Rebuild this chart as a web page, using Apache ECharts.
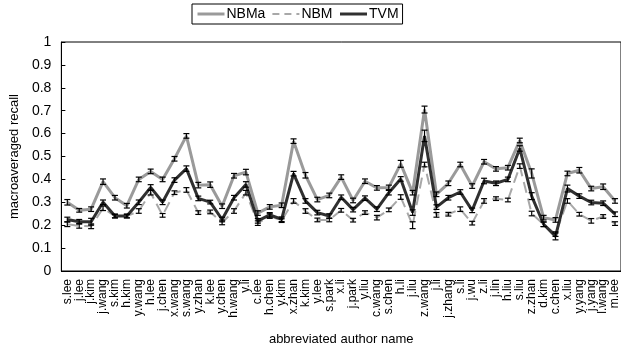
<!DOCTYPE html>
<html>
<head>
<meta charset="utf-8">
<script src="https://cdn.jsdelivr.net/npm/echarts@6/dist/echarts.min.js"></script>
<style>
  html, body { margin: 0; padding: 0; background: #fff; }
  #chart { width: 621px; height: 351px; }
</style>
</head>
<body>
<div id="chart"></div>
<script>
  // author names on the x axis
  const authors = ['s.lee', 'j.lee', 'j.kim', 'j.wang', 's.kim', 'h.kim', 'y.wang', 'h.lee', 'j.chen', 'x.wang',
    's.wang', 'y.zhan', 'k.lee', 'y.chen', 'h.wang', 'y.li', 'c.lee', 'h.chen', 'y.kim', 'x.zhan',
    'k.kim', 'y.lee', 's.park', 'x.li', 'j.park', 'y.liu', 'c.wang', 's.chen', 'h.li', 'j.liu',
    'z.wang', 'j.li', 'j.zhang', 's.li', 'j.wu', 'z.li', 'j.lin', 'h.liu', 's.liu', 'z.zhan',
    'd.kim', 'c.chen', 'x.liu', 'y.yang', 'j.yang', 'l.wang', 'm.lee']

  const nbma = [0.30, 0.265, 0.27, 0.39, 0.32, 0.285, 0.40, 0.435, 0.40, 0.49,
    0.59, 0.375, 0.377, 0.283, 0.416, 0.432, 0.253, 0.28, 0.287, 0.567,
    0.418, 0.312, 0.33, 0.41, 0.308, 0.392, 0.363, 0.365, 0.468, 0.342,
    0.705, 0.335, 0.383, 0.465, 0.371, 0.477, 0.446, 0.451, 0.57, 0.426,
    0.233, 0.223, 0.426, 0.44, 0.36, 0.368, 0.306]
  const nbm = [0.204, 0.197, 0.195, 0.274, 0.24, 0.24, 0.262, 0.342, 0.243, 0.342,
    0.354, 0.255, 0.258, 0.212, 0.262, 0.342, 0.209, 0.24, 0.22, 0.306,
    0.262, 0.223, 0.223, 0.265, 0.222, 0.255, 0.233, 0.267, 0.323, 0.20,
    0.465, 0.245, 0.248, 0.27, 0.209, 0.306, 0.316, 0.31, 0.458, 0.251,
    0.204, 0.161, 0.306, 0.248, 0.219, 0.238, 0.207]
  const tvm = [0.225, 0.215, 0.215, 0.30, 0.24, 0.24, 0.30, 0.365, 0.30, 0.397,
    0.447, 0.317, 0.301, 0.225, 0.32, 0.378, 0.219, 0.245, 0.226, 0.425,
    0.306, 0.255, 0.24, 0.322, 0.268, 0.318, 0.27, 0.342, 0.402, 0.255,
    0.59, 0.279, 0.32, 0.345, 0.265, 0.393, 0.383, 0.40, 0.535, 0.327,
    0.204, 0.151, 0.36, 0.327, 0.299, 0.296, 0.248]

  // half-length of the error bars
  const errNbma = [0.012, 0.008, 0.01, 0.012, 0.01, 0.01, 0.01, 0.01, 0.01, 0.01,
    0.01, 0.012, 0.012, 0.01, 0.01, 0.012, 0.01, 0.01, 0.01, 0.01,
    0.012, 0.01, 0.01, 0.01, 0.01, 0.01, 0.01, 0.01, 0.015, 0.01,
    0.015, 0.01, 0.01, 0.01, 0.01, 0.01, 0.01, 0.01, 0.01, 0.02,
    0.01, 0.01, 0.01, 0.012, 0.01, 0.012, 0.01]
  const errNbm = [0.01, 0.01, 0.01, 0.01, 0.008, 0.008, 0.01, 0.01, 0.008, 0.008,
    0.01, 0.008, 0.008, 0.01, 0.01, 0.01, 0.01, 0.01, 0.008, 0.01,
    0.01, 0.008, 0.008, 0.008, 0.008, 0.008, 0.01, 0.008, 0.01, 0.015,
    0.01, 0.01, 0.008, 0.01, 0.008, 0.01, 0.008, 0.008, 0.01, 0.01,
    0.01, 0.01, 0.01, 0.008, 0.01, 0.008, 0.008]
  const errTvm = [0.01, 0.01, 0.015, 0.01, 0.008, 0.008, 0.01, 0.012, 0.01, 0.01,
    0.012, 0.01, 0.008, 0.01, 0.01, 0.012, 0.01, 0.01, 0.01, 0.01,
    0.01, 0.01, 0.01, 0.01, 0.01, 0.01, 0.01, 0.01, 0.01, 0.012,
    0.025, 0.01, 0.01, 0.01, 0.01, 0.012, 0.01, 0.01, 0.012, 0.015,
    0.01, 0.015, 0.015, 0.01, 0.01, 0.01, 0.01]

  const font = 'Liberation Sans, Arial, sans-serif'

  function barData(vals, errs) {
    return vals.map((v, i) => [i, v - errs[i], v + errs[i]])
  }

  function renderErr(params, api) {
    const lo = api.coord([api.value(0), api.value(1)])
    const hi = api.coord([api.value(0), api.value(2)])
    const half = 3
    const style = { stroke: '#000', lineWidth: 1.2 }
    return {
      type: 'group',
      children: [
        { type: 'line', shape: { x1: lo[0], y1: lo[1], x2: hi[0], y2: hi[1] }, style: style },
        { type: 'line', shape: { x1: lo[0] - half, y1: lo[1], x2: lo[0] + half, y2: lo[1] }, style: style },
        { type: 'line', shape: { x1: hi[0] - half, y1: hi[1], x2: hi[0] + half, y2: hi[1] }, style: style }
      ]
    }
  }

  function errSeries(vals, errs, z) {
    return {
      type: 'custom',
      renderItem: renderErr,
      data: barData(vals, errs),
      encode: { x: 0, y: [1, 2] },
      z: z,
      silent: true
    }
  }

  const chart = echarts.init(document.getElementById('chart'))
  chart.setOption({
    animation: false,
    textStyle: { fontFamily: font },
    legend: {
      left: 192,
      top: 4,
      padding: [3, 4, 3, 4],
      borderColor: '#000',
      borderWidth: 1,
      itemGap: 6,
      itemWidth: 27,
      itemHeight: 12,
      itemStyle: { opacity: 0 },
      textStyle: { fontFamily: font, fontSize: 14, color: '#000', padding: [0, 0, 0, -3] },
      data: [
        { name: 'NBMa', lineStyle: { width: 3 } },
        { name: 'NBM', lineStyle: { type: [7, 5], width: 2 } },
        { name: 'TVM', lineStyle: { width: 3 } }
      ]
    },
    grid: {
      left: 57,
      top: 42,
      width: 566,
      height: 230,
      show: true,
      borderColor: '#000',
      borderWidth: 1
    },
    xAxis: {
      type: 'category',
      data: authors,
      boundaryGap: true,
      name: 'abbreviated author name',
      nameLocation: 'middle',
      nameGap: 62,
      nameTextStyle: { fontFamily: font, fontSize: 13, color: '#000' },
      axisLine: { lineStyle: { color: '#000', width: 1 } },
      axisTick: { inside: true, length: 4, lineStyle: { color: '#000' } },
      axisLabel: { interval: 0, rotate: 90, fontSize: 12, color: '#000', margin: 8, fontFamily: font }
    },
    yAxis: {
      type: 'value',
      min: 0,
      max: 1,
      interval: 0.1,
      name: 'macroaveraged recall',
      nameLocation: 'middle',
      nameGap: 38,
      nameTextStyle: { fontFamily: font, fontSize: 13, color: '#000' },
      axisLine: { show: true, lineStyle: { color: '#000', width: 1 } },
      axisTick: { show: true, inside: true, length: 4, lineStyle: { color: '#000' } },
      axisLabel: { fontSize: 14, color: '#000', margin: 10, fontFamily: font,
        formatter: v => String(Math.round(v * 10) / 10) },
      splitLine: { show: false }
    },
    series: [
      {
        name: 'NBMa',
        type: 'line',
        data: nbma,
        symbol: 'none',
        z: 3,
        lineStyle: { color: '#9a9a9a', width: 3 },
        itemStyle: { color: '#9a9a9a' }
      },
      {
        name: 'NBM',
        type: 'line',
        data: nbm,
        symbol: 'none',
        z: 2,
        lineStyle: { color: '#a8a8a8', width: 2, type: [11, 6] },
        itemStyle: { color: '#a8a8a8' }
      },
      {
        name: 'TVM',
        type: 'line',
        data: tvm,
        symbol: 'none',
        z: 4,
        lineStyle: { color: '#303030', width: 3 },
        itemStyle: { color: '#303030' }
      },
      errSeries(nbm, errNbm, 5),
      errSeries(nbma, errNbma, 5),
      errSeries(tvm, errTvm, 6)
    ]
  })
</script>
</body>
</html>
